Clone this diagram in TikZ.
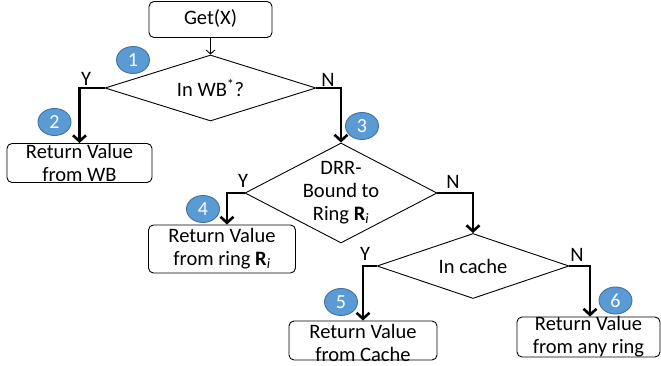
\documentclass[tikz,border=0pt]{standalone}
\usepackage{fontspec}
\setmainfont{Carlito}
\usetikzlibrary{shapes.geometric,arrows.meta}
\definecolor{badgefill}{HTML}{5B9BD5}
\definecolor{badgeline}{HTML}{41719C}
\newcommand{\Ri}{\textbf{R}\textsubscript{\textit{i}}}
\begin{document}
\begin{tikzpicture}[x=1pt,y=-1pt,
  box/.style={draw, rounded corners=5pt, line width=0.9pt, inner sep=0pt},
  dec/.style={draw, diamond, line width=0.9pt, inner sep=0pt},
  lab/.style={font=\fontsize{20.5}{23}\selectfont, align=center, inner sep=0pt},
  yn/.style={font=\fontsize{20.5}{23}\selectfont, inner sep=0pt},
  badge/.style={ellipse, draw=badgeline, fill=badgefill, line width=0.9pt, minimum width=33pt, minimum height=27pt, inner sep=0pt, text=white, font=\fontsize{20}{20}\selectfont},
  thinarrow/.style={line width=0.9pt, -{Straight Barb[length=4pt,width=9pt]}},
  thickarrow/.style={line width=2.6pt, miter limit=10, -{Straight Barb[length=6pt,width=13pt]}}
]
\useasboundingbox (0,0) rectangle (661,366);

% boxes
\node[box, minimum width=123pt, minimum height=36pt] (g) at (210.5,19.5) {};
\node[lab] at ([yshift=1pt]g.center) {Get(X)};
\node[box, minimum width=145pt, minimum height=39pt] (b2) at (79.5,163) {};
\node[lab] at (b2) {Return Value\\from WB};
\node[box, minimum width=147pt, minimum height=48pt] (b4) at (222,249) {};
\node[lab] at (b4) {Return Value\\from ring \Ri};
\node[box, minimum width=148pt, minimum height=39pt] (b5) at (363,340.5) {};
\node[lab] at ([yshift=-2pt]b5.center) {Return Value\\from Cache};
\node[box, minimum width=143pt, minimum height=40pt] (b6) at (588.5,337) {};
\node[lab] at (b6) {Return Value\\from any ring};

% decisions
\node[dec, minimum width=211pt, minimum height=66pt] (d1) at (210.5,88) {};
\node[lab] at (d1) {In WB\textsuperscript{*}?};
\node[dec, minimum width=192pt, minimum height=100pt] (d2) at (341,193) {};
\node[lab] at (d2) {DRR-\\Bound to\\Ring \Ri};
\node[dec, minimum width=192pt, minimum height=65pt] (d3) at (473,266) {};
\node[lab] at (d3) {In cache};

% connectors
\draw[thinarrow] (g.south) -- (d1.north);
\draw[thickarrow] (d1.west) -| (b2.north);
\draw[thickarrow] (d1.east) -| (d2.north);
\draw[thickarrow] (d2.west) -| ([xshift=5pt]b4.north);
\draw[thickarrow] (d2.east) -| (d3.north);
\draw[thickarrow] (d3.west) -| (b5.north);
\draw[thickarrow] (d3.east) -| ([xshift=1.5pt]b6.north);

% Y/N labels
\node[yn] (y1) at (86,79) {Y};
\node[yn] (n1) at (328,80) {N};
\node[yn] (y2) at (243,181) {Y};
\node[yn] (n2) at (453,182) {N};
\node[yn] (y3) at (365,254) {Y};
\node[yn] (n3) at (577,255) {N};

% badges
\node[badge] (c1) at (133,60) {1};
\node[badge] (c2) at (54.5,122) {2};
\node[badge] (c3) at (362,126) {3};
\node[badge] (c4) at (203,209) {4};
\node[badge] (c5) at (341,302) {5};
\node[badge] (c6) at (615.5,300.5) {6};
\end{tikzpicture}
\end{document}
